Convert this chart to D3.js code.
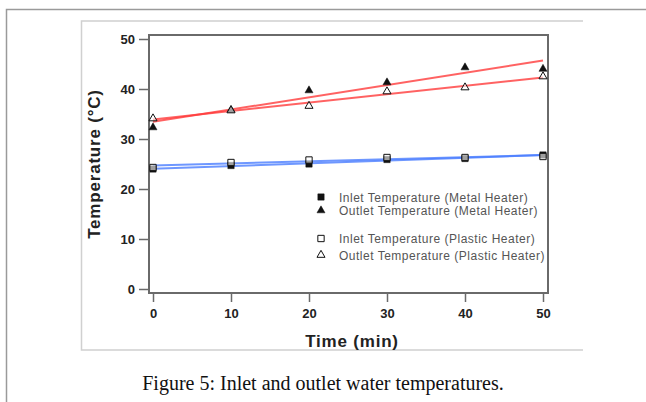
<!DOCTYPE html>
<html lang="en">
<head>
  <meta charset="UTF-8">
  <title>Figure 5</title>
  <style>
  body { margin: 0; background: #fff; }
  svg { display: block; }
  </style>
</head>
<body>
  <svg id="chart" width="646" height="402"></svg>
  <script src="https://cdn.jsdelivr.net/npm/d3@7"></script>
  <script>

// time points (min)
const times = [0, 10, 20, 30, 40, 50]

// temperatures (°C)
const inletMetal = [24.0, 24.7, 25.0, 25.9, 26.1, 26.8]
const outletMetal = [32.3, 35.8, 39.7, 41.3, 44.3, 44.0]
const inletPlastic = [24.3, 25.3, 25.8, 26.3, 26.3, 26.5]
const outletPlastic = [34.1, 35.7, 36.6, 39.5, 40.3, 42.5]

const xTicks = [0, 10, 20, 30, 40, 50]
const yTicks = [0, 10, 20, 30, 40, 50]

const legendLabels = [
  'Inlet Temperature (Metal Heater)',
  'Outlet Temperature (Metal Heater)',
  'Inlet Temperature (Plastic Heater)',
  'Outlet Temperature (Plastic Heater)'
]

const series = [
  {values: inletMetal, shape: 'square', filled: true, fit: '#4a7dff'},
  {values: outletMetal, shape: 'triangle', filled: true, fit: '#ff3b3b'},
  {values: inletPlastic, shape: 'square', filled: false, fit: '#4a7dff'},
  {values: outletPlastic, shape: 'triangle', filled: false, fit: '#ff3b3b'}
]

const svg = d3.select('#chart')
const sans = 'Liberation Sans, Arial, sans-serif'

// page frame
svg.append('path')
  .attr('d', 'M6.5,402 V9.5 H646')
  .attr('fill', 'none')
  .attr('stroke', '#9a9a9a')
  .attr('stroke-width', 1.5)

// image box
svg.append('path')
  .attr('d', 'M583,21 H81.5 V350 H583')
  .attr('fill', 'none')
  .attr('stroke', '#d0d0d0')
  .attr('stroke-width', 1.5)

const x = d3.scaleLinear().domain([0, 50]).range([153, 543])
const y = d3.scaleLinear().domain([0, 50]).range([289, 39])

const axisColor = '#6a6a6a'

// plot frame
svg.append('rect')
  .attr('x', 149).attr('y', 35)
  .attr('width', 399).attr('height', 258)
  .attr('fill', 'none')
  .attr('stroke', axisColor)
  .attr('stroke-width', 2)

const yAxis = svg.append('g')
  .attr('transform', 'translate(148,0)')
  .call(d3.axisLeft(y).tickValues(yTicks).tickSize(9).tickPadding(4))
yAxis.select('.domain').remove()

const xAxis = svg.append('g')
  .attr('transform', 'translate(0,294)')
  .call(d3.axisBottom(x).tickValues(xTicks).tickSize(8).tickPadding(7))
xAxis.select('.domain').remove()

svg.selectAll('.tick line').attr('stroke', axisColor).attr('stroke-width', 1.5)
svg.selectAll('.tick text')
  .attr('font-family', sans)
  .attr('font-size', 13)
  .attr('font-weight', 'bold')
  .attr('fill', '#222')

// axis titles
svg.append('text')
  .attr('transform', 'translate(100,164) rotate(-90)')
  .attr('text-anchor', 'middle')
  .attr('font-family', sans)
  .attr('font-size', 17)
  .attr('font-weight', 'bold')
  .attr('letter-spacing', 0.8)
  .attr('fill', '#222')
  .text('Temperature (°C)')

svg.append('text')
  .attr('x', 352).attr('y', 347)
  .attr('text-anchor', 'middle')
  .attr('font-family', sans)
  .attr('font-size', 17)
  .attr('font-weight', 'bold')
  .attr('letter-spacing', 0.8)
  .attr('fill', '#222')
  .text('Time (min)')

// least squares fit of each series
function fit(values) {
  const mx = d3.mean(times), my = d3.mean(values)
  const num = d3.sum(times, (t, i) => (t - mx) * (values[i] - my))
  const den = d3.sum(times, t => (t - mx) * (t - mx))
  const b = num / den
  return t => my + b * (t - mx)
}

const plot = svg.append('g')

series.forEach(s => {
  const f = fit(s.values)
  plot.append('line')
    .attr('x1', x(0)).attr('y1', y(f(0)))
    .attr('x2', x(50)).attr('y2', y(f(50)))
    .attr('stroke', s.fit)
    .attr('stroke-width', 2)
    .attr('stroke-opacity', 0.8)
})

function marker(sel, shape, filled) {
  const sym = shape === 'square' ? d3.symbolSquare : d3.symbolTriangle
  sel.attr('d', d3.symbol().type(sym).size(shape === 'square' ? 40 : 28))
    .attr('fill', filled ? '#111' : '#fff')
    .attr('fill-opacity', filled ? 1 : 0.6)
    .attr('stroke', '#111')
    .attr('stroke-width', filled ? 0.5 : 1)
}

series.forEach(s => {
  plot.selectAll(null)
    .data(s.values)
    .enter().append('path')
    .attr('transform', (d, i) => `translate(${x(times[i])},${y(d)})`)
    .call(marker, s.shape, s.filled)
})

// legend
const legendY = [197, 210.5, 238.5, 255]
const legend = svg.append('g')
legendLabels.forEach((label, i) => {
  const s = series[i]
  legend.append('path')
    .attr('transform', `translate(321,${legendY[i]})`)
    .call(marker, s.shape, s.filled)
  legend.append('text')
    .attr('x', 339).attr('y', legendY[i] + 4.5)
    .attr('font-family', sans)
    .attr('font-size', 12)
    .attr('letter-spacing', 0.5)
    .attr('fill', '#555')
    .text(label)
})

// caption
svg.append('text')
  .attr('x', 323).attr('y', 390)
  .attr('text-anchor', 'middle')
  .attr('font-family', 'Liberation Serif, Times New Roman, serif')
  .attr('font-size', 20)
  .attr('fill', '#111')
  .text('Figure 5: Inlet and outlet water temperatures.')

  </script>
</body>
</html>
